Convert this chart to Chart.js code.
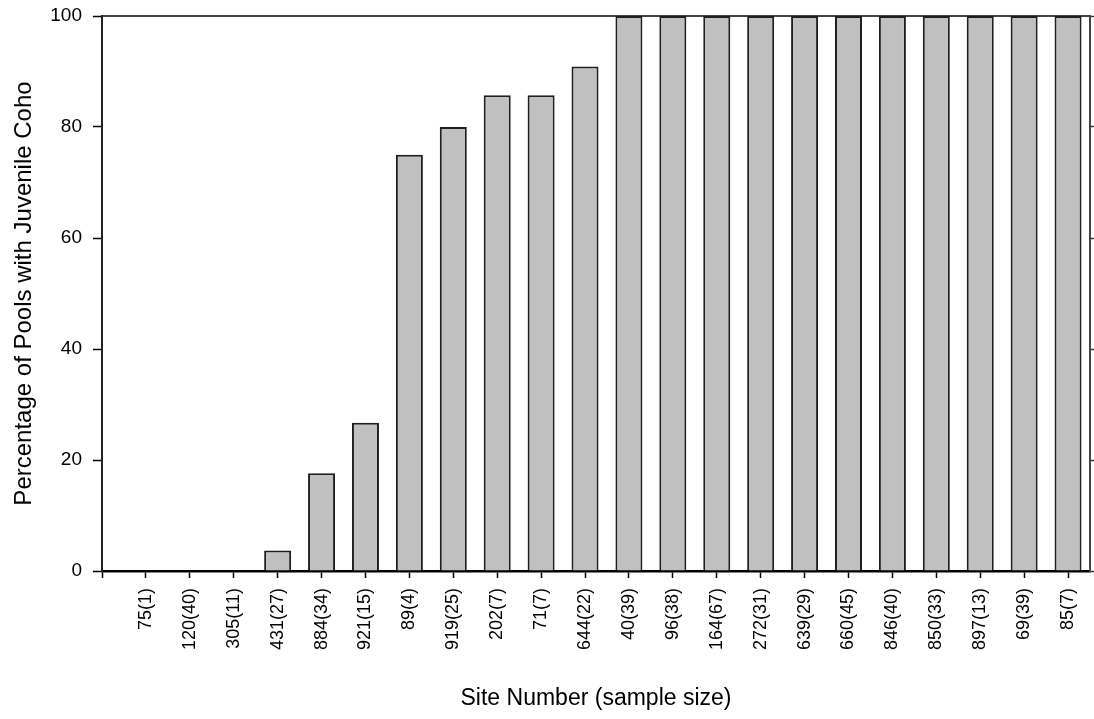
<!DOCTYPE html>
<html>
<head>
<meta charset="utf-8">
<title>Juvenile Coho by Site</title>
<script src="https://cdn.jsdelivr.net/npm/chart.js@4/dist/chart.umd.min.js"></script>
<style>
  html, body { margin: 0; padding: 0; background: #ffffff; }
  #wrap { width: 1094px; height: 719px; }
  canvas { display: block; }
</style>
</head>
<body>
<div id="wrap"><canvas id="chart" width="1094" height="719"></canvas></div>
<script>
// Site labels: site number with number of pools sampled in parentheses
const siteLabels = [
  '75(1)', '120(40)', '305(11)', '431(27)', '884(34)', '921(15)',
  '89(4)', '919(25)', '202(7)', '71(7)', '644(22)', '40(39)',
  '96(38)', '164(67)', '272(31)', '639(29)', '660(45)', '846(40)',
  '850(33)', '897(13)', '69(39)', '85(7)'
];

// Percentage of pools at each site where juvenile coho were found
const pctWithCoho = [
  0, 0, 0, 3.7, 17.6, 26.7,
  75, 80, 85.7, 85.7, 90.9, 100,
  100, 100, 100, 100, 100, 100,
  100, 100, 100, 100
];

// Y axis tick values
const yTicks = [0, 20, 40, 60, 80, 100];

// Bar positions along the x axis (site 1 .. n)
const sitePositions = siteLabels.map((_, i) => i + 1);

const FONT = "'Liberation Sans', Arial, Helvetica, sans-serif";
const INK = '#000000';
const AXIS = '#222222';

const points = sitePositions.map((x, i) => ({ x: x, y: pctWithCoho[i] }));

// keep the plot frame fixed: no extra room reserved for edge labels
function noEdgePadding(scale) {
  scale.paddingTop = 0;
  scale.paddingBottom = 0;
  scale.paddingLeft = 0;
  scale.paddingRight = 0;
}

new Chart(document.getElementById('chart'), {
  type: 'bar',
  data: {
    datasets: [{
      data: points,
      backgroundColor: '#c0c0c0',
      borderColor: '#1e1e1e',
      borderWidth: 2,
      borderSkipped: 'bottom',
      categoryPercentage: 1,
      barPercentage: 0.615
    }]
  },
  options: {
    responsive: false,
    animation: false,
    devicePixelRatio: 1,
    layout: { padding: 0, autoPadding: false },
    plugins: {
      legend: { display: false },
      tooltip: { enabled: false },
      title: { display: false }
    },
    scales: {
      x: {
        type: 'linear',
        position: 'bottom',
        min: 0,
        max: siteLabels.length + 0.5,
        offset: false,
        afterBuildTicks: (scale) => {
          scale.ticks = [0].concat(sitePositions).map(v => ({ value: v }));
        },
        afterFit: (scale) => { scale.height = 148; noEdgePadding(scale); },
        ticks: {
          autoSkip: false,
          maxRotation: 90,
          minRotation: 90,
          padding: 10,
          color: INK,
          font: { family: FONT, size: 18 },
          callback: (value) => {
            const i = Math.round(value) - 1;
            return (i >= 0 && i < siteLabels.length) ? siteLabels[i] : '';
          }
        },
        grid: {
          offset: false,
          drawOnChartArea: false,
          drawTicks: true,
          tickLength: 7,
          tickColor: INK,
          tickWidth: 1.5
        },
        border: { display: true, color: INK, width: 2.5 },
        title: {
          display: true,
          text: 'Site Number (sample size)',
          color: INK,
          font: { family: FONT, size: 23 },
          padding: { top: 0, bottom: 7 }
        }
      },
      xTop: {
        type: 'linear',
        position: 'top',
        min: 0,
        max: siteLabels.length + 0.5,
        offset: false,
        afterFit: (scale) => { scale.height = 16; noEdgePadding(scale); },
        ticks: { display: false },
        grid: { display: false, drawTicks: false },
        border: { display: true, color: '#444444', width: 2 }
      },
      y: {
        type: 'linear',
        position: 'left',
        min: 0,
        max: 100,
        afterBuildTicks: (scale) => {
          scale.ticks = yTicks.map(v => ({ value: v }));
        },
        afterFit: (scale) => { scale.width = 102; noEdgePadding(scale); },
        ticks: {
          padding: 11,
          color: INK,
          font: { family: FONT, size: 19 }
        },
        grid: {
          drawOnChartArea: false,
          drawTicks: true,
          tickLength: 9,
          tickColor: INK,
          tickWidth: 1.5
        },
        border: { display: true, color: AXIS, width: 2 },
        title: {
          display: true,
          text: 'Percentage of Pools with Juvenile Coho',
          color: INK,
          font: { family: FONT, size: 24 },
          padding: { top: 10, bottom: 0 }
        }
      },
      yRight: {
        type: 'linear',
        position: 'right',
        min: 0,
        max: 100,
        afterBuildTicks: (scale) => {
          scale.ticks = yTicks.map(v => ({ value: v }));
        },
        afterFit: (scale) => { scale.width = 4; noEdgePadding(scale); },
        ticks: { display: false },
        grid: {
          drawOnChartArea: false,
          drawTicks: true,
          tickLength: 4,
          tickColor: '#333333',
          tickWidth: 1.5
        },
        border: { display: true, color: '#444444', width: 2 }
      }
    }
  }
});
</script>
</body>
</html>
